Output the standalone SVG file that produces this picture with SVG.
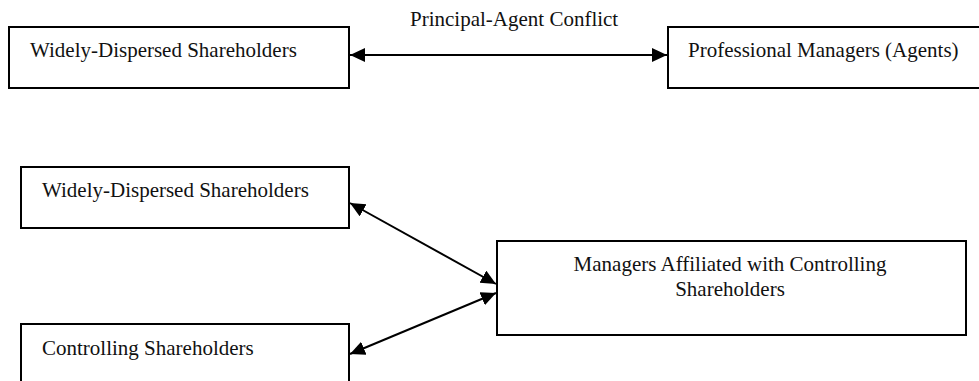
<svg xmlns="http://www.w3.org/2000/svg" width="979" height="381" viewBox="0 0 979 381">
<defs>
<style>
.box{fill:#fff;stroke:#000;stroke-width:2}
.t{font-family:"Liberation Serif","Times New Roman",serif;font-size:21px;fill:#111}
.c{stroke:#000;stroke-width:2;fill:none;marker-start:url(#ah);marker-end:url(#ah)}
</style>
<marker id="ah" markerUnits="userSpaceOnUse" markerWidth="16" markerHeight="15" refX="15" refY="7" orient="auto-start-reverse">
<path d="M0,0 L15,7 L0,14 Z" fill="#000"/>
</marker>
</defs>
<rect width="979" height="381" fill="#fff"/>
<g id="n1"><rect class="box" x="9" y="27" width="340" height="61"/><text class="t" x="30" y="57">Widely-Dispersed Shareholders</text></g>
<g id="n2"><rect class="box" x="668" y="27" width="330" height="61"/><text class="t" x="688" y="57">Professional Managers (Agents)</text></g>
<g id="n3"><rect class="box" x="21" y="167" width="328" height="61"/><text class="t" x="42" y="197">Widely-Dispersed Shareholders</text></g>
<g id="n4"><rect class="box" x="21" y="324" width="328" height="80"/><text class="t" x="42" y="355">Controlling Shareholders</text></g>
<g id="n5"><rect class="box" x="497" y="241" width="469" height="94"/><text class="t" x="730" y="271" text-anchor="middle">Managers Affiliated with Controlling</text><text class="t" x="730" y="296" text-anchor="middle">Shareholders</text></g>
<g id="connectors">
<line class="c" x1="350" y1="55" x2="667" y2="55"/>
<line class="c" x1="350" y1="203" x2="496" y2="284"/>
<line class="c" x1="496" y1="293" x2="350" y2="354"/>
<text class="t" x="410" y="26">Principal-Agent Conflict</text>
</g>
</svg>
